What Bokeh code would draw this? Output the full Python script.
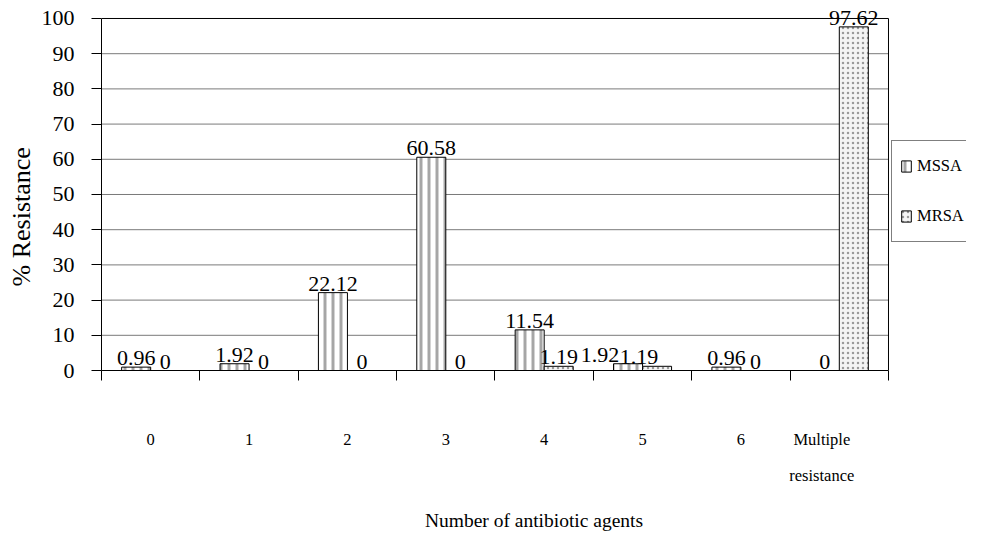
from bokeh.plotting import figure
from bokeh.models import (ColumnDataSource, FixedTicker, Legend, LegendItem, Range1d,
                          LabelSet, LinearAxis, Title)
from bokeh.embed import file_html
from bokeh.resources import INLINE

categories = ["0", "1", "2", "3", "4", "5", "6", "Multiple resistance"]
mssa = [0.96, 1.92, 22.12, 60.58, 11.54, 1.92, 0.96, 0]
mrsa = [0, 0, 0, 0, 1.19, 1.19, 0, 97.62]
y_ticks = list(range(0, 101, 10))

FONT = "Liberation Serif"
BAR_W = 0.295
OFF = 0.1475
Y_MAX = 100
Y_TOP = 102.27
X_END = 8.793   # frame runs on under the legend (legend is cut at the right edge)

n = len(categories)
xc = [i + 0.5 for i in range(n)]
label_x = list(xc)
label_x[-1] -= 0.178   # the two-line label sits a little left of its category centre
line1 = [c.split(" ", 1)[0] for c in categories]
line2 = [c.split(" ", 1)[1] if " " in c else "" for c in categories]

# value labels of category "5" were nudged left in the original to avoid overlap
dx_ms = [0, 0, 0, 0, 0, -28, 0, 0]
dx_mr = [0, 0, 0, 0, 0, -18, 0, 0]

src_ms = ColumnDataSource(dict(x=[c - OFF for c in xc], top=mssa,
                               lab=[f"{v:g}" for v in mssa], dx=dx_ms))
src_mr = ColumnDataSource(dict(x=[c + OFF for c in xc], top=mrsa,
                               lab=[f"{v:g}" for v in mrsa], dx=dx_mr))

p = figure(width=966, height=540, output_backend="svg", toolbar_location=None,
           x_range=Range1d(0, X_END), y_range=Range1d(0, Y_TOP),
           min_border_left=101, min_border_right=0, min_border_top=10,
           min_border_bottom=170)
p.background_fill_color = "white"
p.border_fill_color = "white"
p.outline_line_color = None
p.xgrid.visible = False
p.ygrid.visible = False

# horizontal grid lines, limited to the plot area
grid_y = [t for t in y_ticks if 0 < t < Y_MAX]
p.segment(x0=[0] * len(grid_y), x1=[n] * len(grid_y), y0=grid_y, y1=grid_y,
          line_color="#7a7a7a", line_width=1)
# plot-area border (top and right)
p.line(x=[0, n, n], y=[Y_MAX, Y_MAX, 0], line_color="black", line_width=1)

r1 = p.vbar(x="x", top="top", width=BAR_W, bottom=0, source=src_ms,
            fill_color="white", line_color="black", line_width=1,
            hatch_pattern="vertical_line", hatch_color="#a6a6a6",
            hatch_scale=8, hatch_weight=3)
r2 = p.vbar(x="x", top="top", width=BAR_W, bottom=0, source=src_mr,
            fill_color="#f4f4f4", line_color="black", line_width=1,
            hatch_pattern="dot", hatch_color="#9a9a9a",
            hatch_scale=5, hatch_weight=1.3)

for src in (src_ms, src_mr):
    ls = LabelSet(x="x", y="top", text="lab", source=src, text_align="center",
                  text_baseline="alphabetic", y_offset=2, x_offset="dx",
                  text_font=FONT, text_font_size="22px", text_color="black")
    p.add_layout(ls)

# x axis: first label line, ticks at category boundaries
xa = p.xaxis[0]
xa.bounds = (0, n)
xa.ticker = FixedTicker(ticks=label_x, minor_ticks=list(range(n + 1)))
xa.major_label_overrides = {c: lab for c, lab in zip(label_x, line1)}
xa.major_tick_out = 0
xa.major_tick_in = 0
xa.minor_tick_out = 10
xa.minor_tick_in = 0
xa.minor_tick_line_color = "black"
xa.axis_line_color = "black"
xa.major_label_standoff = 49
xa.major_label_text_font = FONT
xa.major_label_text_font_size = "16.5px"
xa.major_label_text_color = "black"

# second label line and axis title
xa2 = LinearAxis(ticker=FixedTicker(ticks=label_x, minor_ticks=[]),
                 major_label_overrides={c: lab for c, lab in zip(label_x, line2)},
                 axis_line_color=None, major_tick_line_color=None,
                 minor_tick_line_color=None, major_tick_out=0, major_tick_in=0,
                 minor_tick_out=0, minor_tick_in=0, major_label_standoff=14,
                 major_label_text_font=FONT, major_label_text_font_size="16.5px",
                 major_label_text_color="black",
                 axis_label="Number of antibiotic agents", axis_label_text_font=FONT,
                 axis_label_text_font_size="19.5px", axis_label_text_font_style="normal",
                 axis_label_text_color="black", axis_label_standoff=22)
p.add_layout(xa2, "below")

# y axis
ya = p.yaxis[0]
ya.bounds = (0, Y_MAX)
ya.ticker = FixedTicker(ticks=y_ticks, minor_ticks=[])
ya.major_tick_out = 10
ya.major_tick_in = 0
ya.major_tick_line_color = "black"
ya.axis_line_color = "black"
ya.major_label_standoff = 17
ya.major_label_text_font = FONT
ya.major_label_text_font_size = "22px"
ya.major_label_text_color = "black"

# y-axis title, placed a little below the plot-area centre as in the original
p.add_layout(Title(text="% Resistance", align="left", offset=84, standoff=6,
                   text_font=FONT, text_font_size="26px", text_font_style="normal",
                   text_color="black"), "left")

legend = Legend(items=[LegendItem(label="MSSA", renderers=[r1]),
                       LegendItem(label="MRSA", renderers=[r2])],
                location=(790, 128), border_line_color="black", border_line_width=1,
                background_fill_color="white", background_fill_alpha=1,
                padding=8, spacing=16, label_height=34, label_width=100,
                glyph_height=14, glyph_width=12, label_standoff=5, margin=0,
                label_text_font=FONT, label_text_font_size="16.5px",
                label_text_color="black")
p.add_layout(legend, "center")

open("out.html", "w").write(file_html(p, INLINE))
